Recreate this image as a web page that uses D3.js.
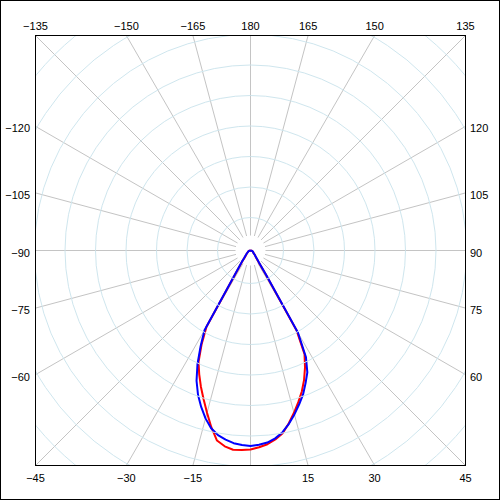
<!DOCTYPE html>
<html>
<head>
<meta charset="utf-8">
<script src="https://cdn.jsdelivr.net/npm/d3@7"></script>
<style>
html,body{margin:0;padding:0;background:#fff;}
svg{display:block;}
text{font-family:"Liberation Sans",Arial,sans-serif;font-size:11px;fill:#000;}
</style>
</head>
<body>
<svg id="chart" width="500" height="500"></svg>
<script>
// ---- data ----
const angles = [-90,-80,-70,-60,-50,-45,-40,-37.5,-35,-32.5,-30,-27.5,-25,-22.5,-20,-17.5,-15,-12.5,-10,-7.5,-5,-2.5,
  0,2.5,5,7.5,10,12.5,15,17.5,20,22.5,25,27.5,30,32.5,35,37.5,40,45,50,60,70,80,90];
const redValues = [0,1,2,3,5,6,9,13,18,30,88,106,123,134,145,156,168,181,193,197.5,200,199.6,
  199,197,194.5,190.5,185.5,177,168,159,150,140,129,117,92,29,14,10,8,6,4,3,2,1,0];
const blueValues = [0,1,2,3,5,7,10,14,19,32,92,108,125.5,141,153.5,164,173.8,182,187.4,190.8,193.4,194.7,
  195.5,194.5,192.8,189.5,184.5,177.5,169.7,161.5,153.5,143.8,134.5,120,95,30,15,11,8,6,4,3,2,1,0];
const rayAngles = d3.range(-165, 181, 15);           // -165 ... 180
const labelAngles = rayAngles.filter(a => a !== 0);
const ringSteps = d3.range(1, 11);

// ---- layout ----
const W = 500, H = 500;
const cx = 250.5, cy = 250.5, half = 215;
const svg = d3.select("#chart");
const fmt = d3.format("d");

svg.append("rect").attr("x",0.5).attr("y",0.5).attr("width",W-1).attr("height",H-1)
  .attr("fill","#fff").attr("stroke","#000");

const defs = svg.append("defs");
defs.append("clipPath").attr("id","sq").append("rect")
  .attr("x",cx-half).attr("y",cy-half).attr("width",2*half).attr("height",2*half);

const rScale = d3.scaleLinear().domain([0,215]).range([0,half]);
const ringScale = d3.scaleLinear().domain([0,1]).range([2.5,33]);
const toRad = d => d*Math.PI/180;

const g = svg.append("g").attr("transform",`translate(${cx},${cy})`);
const gc = svg.append("g").attr("clip-path","url(#sq)")
  .append("g").attr("transform",`translate(${cx},${cy})`);

// rings
gc.selectAll("circle.ring").data(ringSteps).join("circle")
  .attr("class","ring").attr("r",d=>ringScale(d))
  .attr("fill","none").attr("stroke","#cfe6ee").attr("stroke-width",1);

// rays
function edgeDist(a){
  const s=Math.abs(Math.sin(toRad(a))), c=Math.abs(Math.cos(toRad(a)));
  return half/Math.max(s,c);
}
g.selectAll("line.ray").data(rayAngles).join("line")
  .attr("class","ray")
  .attr("x1",a=>15*Math.sin(toRad(a))).attr("y1",a=>15*Math.cos(toRad(a)))
  .attr("x2",a=>edgeDist(a)*Math.sin(toRad(a))).attr("y2",a=>edgeDist(a)*Math.cos(toRad(a)))
  .attr("stroke","#c4c4c4").attr("stroke-width",1);

// inner frame
svg.append("rect").attr("x",cx-half).attr("y",cy-half).attr("width",2*half).attr("height",2*half)
  .attr("fill","none").attr("stroke","#000");

// curves
const line = d3.lineRadial()
  .angle(d=>Math.PI - toRad(d[0]))
  .radius(d=>rScale(d[1]));
const redPts = angles.map((a,i)=>[a,redValues[i]]);
const bluePts = angles.map((a,i)=>[a,blueValues[i]]);
g.append("path").attr("d",line(redPts)).attr("fill","none")
  .attr("stroke","#ff0000").attr("stroke-width",2).attr("stroke-linejoin","round");
g.append("path").attr("d",line(bluePts)).attr("fill","none")
  .attr("stroke","#0000ff").attr("stroke-width",2).attr("stroke-linejoin","round");

// labels
labelAngles.forEach(a=>{
  const s=Math.sin(toRad(a)), c=Math.cos(toRad(a));
  const t=edgeDist(a);
  const px=cx+t*s, py=cy+t*c;
  let x,y,anchor;
  if (Math.abs(c) >= Math.abs(s)-1e-9) {
    anchor="middle"; x=px;
    y = c<0 ? 30 : 482;
  } else {
    y = py+6;
    if (s<0){anchor="end"; x=30;} else {anchor="start"; x=470;}
  }
  svg.append("text").attr("x",x).attr("y",y).attr("text-anchor",anchor).text(fmt(a));
});
</script>
</body>
</html>
